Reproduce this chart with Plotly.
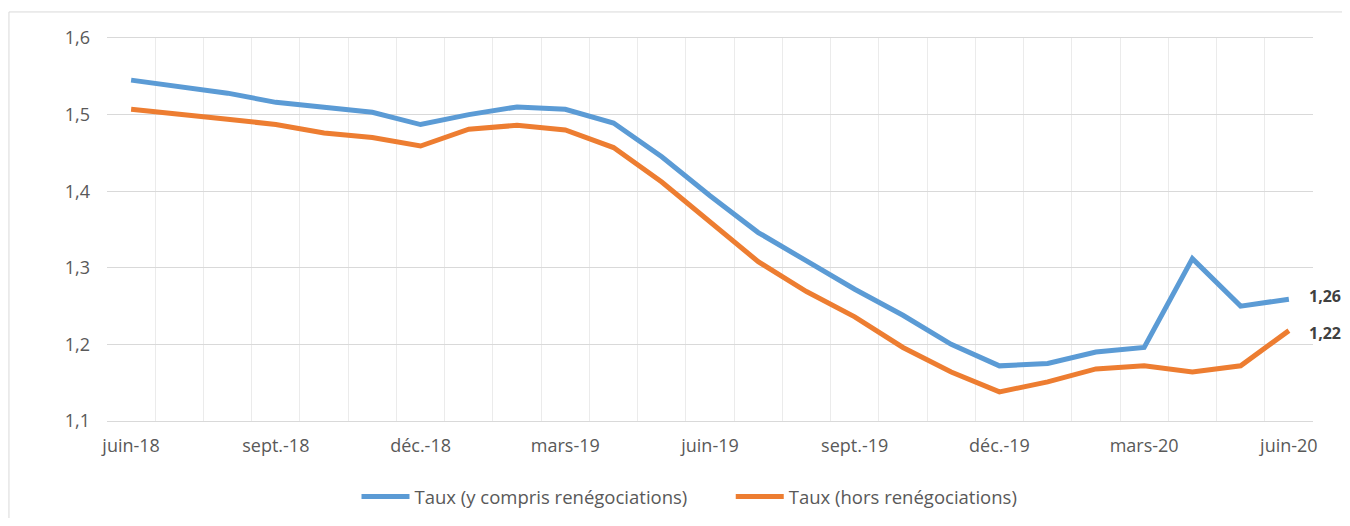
import plotly.graph_objects as go

# mois de juin-18 a juin-20
mois = ["juin-18", "juil.-18", "août-18", "sept.-18", "oct.-18", "nov.-18", "déc.-18",
        "janv.-19", "févr.-19", "mars-19", "avr.-19", "mai-19", "juin-19", "juil.-19",
        "août-19", "sept.-19", "oct.-19", "nov.-19", "déc.-19", "janv.-20", "févr.-20",
        "mars-20", "avr.-20", "mai-20", "juin-20"]

taux_avec_reneg = [1.545, 1.536, 1.528, 1.516, 1.510, 1.503, 1.487, 1.500, 1.510, 1.507,
                   1.489, 1.445, 1.394, 1.346, 1.309, 1.272, 1.238, 1.200, 1.172, 1.175,
                   1.190, 1.196, 1.312, 1.250, 1.259]
taux_hors_reneg = [1.507, 1.501, 1.494, 1.487, 1.476, 1.470, 1.459, 1.481, 1.486, 1.480,
                   1.457, 1.412, 1.360, 1.308, 1.269, 1.236, 1.196, 1.164, 1.138, 1.151,
                   1.168, 1.172, 1.164, 1.172, 1.218]

tick_labels = ["juin-18", "sept.-18", "déc.-18", "mars-19", "juin-19",
               "sept.-19", "déc.-19", "mars-20", "juin-20"]

BLEU = "#5B9BD5"
ORANGE = "#ED7D31"
FONT = "Open Sans"

x = list(range(len(mois)))
tick_pos = [mois.index(t) for t in tick_labels]

fig = go.Figure()
fig.add_trace(go.Scatter(x=x, y=taux_avec_reneg, mode="lines",
                         name="Taux (y compris renégociations)" + "\u00a0" * 8,
                         line=dict(color=BLEU, width=5), hovertext=mois))
fig.add_trace(go.Scatter(x=x, y=taux_hors_reneg, mode="lines", name="Taux (hors renégociations)",
                         line=dict(color=ORANGE, width=5), hovertext=mois))

# etiquettes des dernieres valeurs
for serie, dy in [(taux_avec_reneg, 3), (taux_hors_reneg, -2)]:
    fig.add_annotation(x=x[-1], y=serie[-1], text="<b>" + ("%.2f" % serie[-1]).replace(".", ",") + "</b>",
                       showarrow=False, xanchor="left", xshift=18, yshift=dy,
                       font=dict(family=FONT, size=16, color="#404040"))

n = len(mois)
bornes = [i - 0.5 for i in range(n + 1)]

fig.update_layout(
    width=1334, height=510,
    margin=dict(l=99, r=29, t=30, b=97),
    paper_bgcolor="white", plot_bgcolor="white",
    separators=", ",
    font=dict(family=FONT, size=18, color="#595959"),
    showlegend=True,
    legend=dict(orientation="h", x=0.483, xanchor="center", xref="paper",
                y=0.041, yanchor="middle", yref="container",
                font=dict(family=FONT, size=18.5, color="#595959"), itemwidth=48,
                bgcolor="rgba(0,0,0,0)"),
    xaxis=dict(range=[-0.5, n - 0.5], tickmode="array", tickvals=tick_pos, ticktext=tick_labels,
               showgrid=False, zeroline=False, showline=True, linecolor="#D9D9D9", mirror=True,
               ticks="", ticklabelstandoff=8, automargin=False,
               minor=dict(tickmode="array", tickvals=bornes, showgrid=True,
                          gridcolor="#EBEBEB", gridwidth=1, ticks="")),
    xaxis2=dict(overlaying="x", range=[-0.5, n - 0.5], tickmode="array",
                tickvals=bornes[::3], showticklabels=False, showgrid=True,
                gridcolor="#D9D9D9", gridwidth=1, zeroline=False, showline=False, ticks=""),
    yaxis=dict(range=[1.1, 1.6], dtick=0.1, tickformat=".1f", showgrid=True,
               gridcolor="#D9D9D9", gridwidth=1, zeroline=False, showline=False,
               ticks="", ticklabelstandoff=16, automargin=False),
)

# cadre du graphique
fig.add_shape(type="rect", xref="paper", yref="paper", x0=-0.0813, y0=-0.5, x1=1.1, y1=1.068,
              line=dict(color="#D9D9D9", width=1), fillcolor="rgba(0,0,0,0)", layer="below")

fig.write_html("out.html")
